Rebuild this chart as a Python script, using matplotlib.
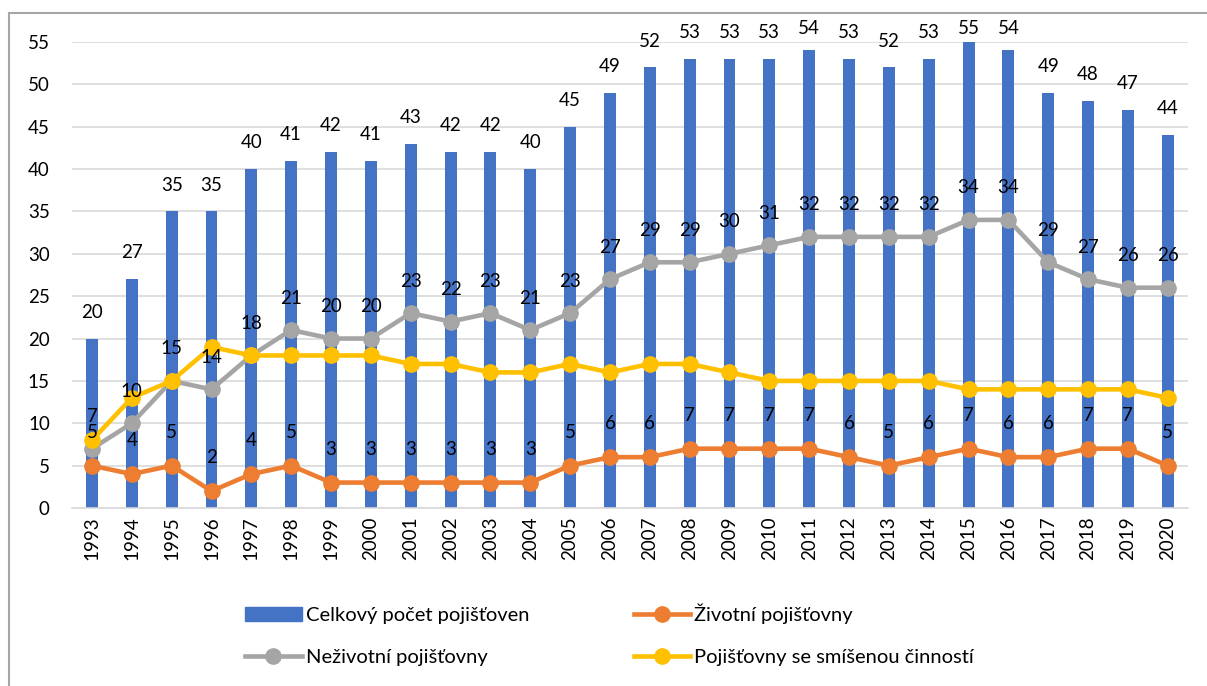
import matplotlib.pyplot as plt
import matplotlib.patches as mpatches
from matplotlib.lines import Line2D

plt.rcParams['font.family'] = ['Lato', 'DejaVu Sans']

years = list(range(1993, 2021))
total = [20, 27, 35, 35, 40, 41, 42, 41, 43, 42, 42, 40, 45, 49, 52, 53, 53, 53, 54, 53, 52, 53, 55, 54, 49, 48, 47, 44]
life = [5, 4, 5, 2, 4, 5, 3, 3, 3, 3, 3, 3, 5, 6, 6, 7, 7, 7, 7, 6, 5, 6, 7, 6, 6, 7, 7, 5]
nonlife = [7, 10, 15, 14, 18, 21, 20, 20, 23, 22, 23, 21, 23, 27, 29, 29, 30, 31, 32, 32, 32, 32, 34, 34, 29, 27, 26, 26]
mixed = [8, 13, 15, 19, 18, 18, 18, 18, 17, 17, 16, 16, 17, 16, 17, 17, 16, 15, 15, 15, 15, 15, 14, 14, 14, 14, 14, 13]

labels = ['Celkový počet pojišťoven', 'Životní pojišťovny',
          'Neživotní pojišťovny', 'Pojišťovny se smíšenou činností']

c_bar = '#4472C4'
c_life = '#ED7D31'
c_non = '#A5A5A5'
c_mix = '#FFC000'

fig = plt.figure(figsize=(12.07, 6.86), dpi=100)
ax = fig.add_axes([0.0597, 0.2595, 0.9243, 0.6793])

x = list(range(len(years)))
ax.bar(x, total, width=0.3, color=c_bar, zorder=2)
ax.plot(x, life, color=c_life, lw=3.3, marker='o', ms=11, zorder=3)
ax.plot(x, nonlife, color=c_non, lw=3.3, marker='o', ms=11, zorder=3)
ax.plot(x, mixed, color=c_mix, lw=3.3, marker='o', ms=11, zorder=4)

ymax = 55
px_per_unit = 466 / ymax  # axes height in pixels / y range
for i in x:
    # labels near the top get pushed down so they stay inside the chart frame
    off = min(19, (13 + (ymax - total[i]) * px_per_unit) * 0.72)
    ax.annotate(str(total[i]), (i, total[i]), xytext=(0, off), textcoords='offset points',
                ha='center', va='center', fontsize=13.5, zorder=5)
    ax.annotate(str(nonlife[i]), (i, nonlife[i]), xytext=(0, 23), textcoords='offset points',
                ha='center', va='center', fontsize=13.5, zorder=5)
    ax.annotate(str(life[i]), (i, life[i]), xytext=(0, 24), textcoords='offset points',
                ha='center', va='center', fontsize=13.5, zorder=5)

ax.set_xlim(-0.5, len(years) - 0.5)
ax.set_ylim(0, ymax)
ax.set_yticks(range(0, 56, 5))
ax.set_xticks(x)
ax.set_xticklabels([str(y) for y in years], rotation=90, fontsize=13.5)
ax.tick_params(axis='y', labelsize=13.5, length=0, pad=16)
ax.tick_params(axis='x', length=0, pad=6)
ax.grid(axis='y', color='#D9D9D9', lw=1.2, zorder=0)
ax.set_axisbelow(True)
for s in ['top', 'right', 'left']:
    ax.spines[s].set_visible(False)
ax.spines['bottom'].set_color('#D9D9D9')
ax.spines['bottom'].set_linewidth(1.2)

h_bar = mpatches.Patch(color=c_bar)
h_life = Line2D([], [], color=c_life, lw=3.3, marker='o', ms=11)
h_non = Line2D([], [], color=c_non, lw=3.3, marker='o', ms=11)
h_mix = Line2D([], [], color=c_mix, lw=3.3, marker='o', ms=11)
fig.legend([h_bar, h_non, h_life, h_mix], [labels[0], labels[2], labels[1], labels[3]],
           ncol=2, loc='center', bbox_to_anchor=(0.505, 0.075), frameon=False,
           fontsize=14.5, handlelength=2.8, handletextpad=0.2, columnspacing=5.2,
           labelspacing=1.25)

# chart border, only top and left edges are visible in the crop
bx, by = 8.5 / 1207, 1 - 12.5 / 686
fig.add_artist(Line2D([bx, 1.0], [by, by], transform=fig.transFigure, color='#A6A6A6', lw=1.5))
fig.add_artist(Line2D([bx, bx], [0.0, by], transform=fig.transFigure, color='#A6A6A6', lw=1.5))

fig.savefig('out.png', dpi=100)
